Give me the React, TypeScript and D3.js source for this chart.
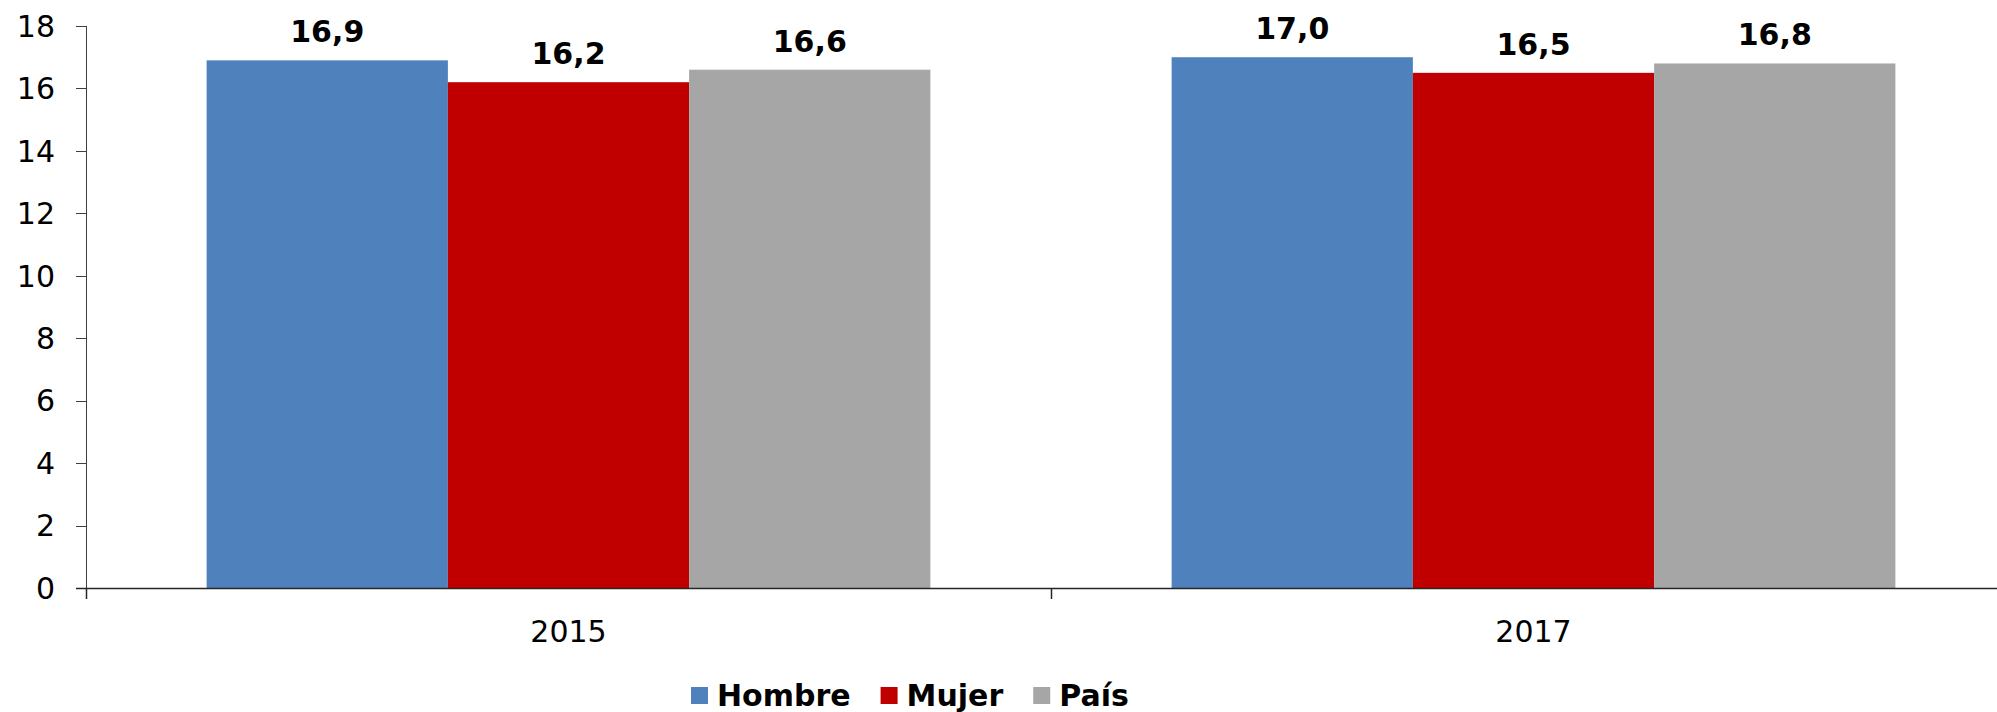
import React, { useLayoutEffect, useRef, useState } from "react";
import * as d3 from "d3";

const categories = ["2015", "2017"];
const seriesNames = ["Hombre", "Mujer", "País"];
const hombre = [16.9, 17.0];
const mujer = [16.2, 16.5];
const pais = [16.6, 16.8];
const yTicks = [0, 2, 4, 6, 8, 10, 12, 14, 16, 18];
const colors = ["#4F81BD", "#C00000", "#A6A6A6"];

const W = 1997;
const H = 712;
const FONT = "'DejaVu Sans', Verdana, sans-serif";

export default function App() {
  const series = [hombre, mujer, pais];
  const x = d3.scaleBand<string>().domain(categories).range([86, 2016]).padding(0);
  const y = d3.scaleLinear().domain([0, 18]).range([588, 26]);
  const bw = x.bandwidth() / 4;
  const fmt = (v: number) => v.toFixed(1).replace(".", ",");

  const textRefs = useRef<(SVGTextElement | null)[]>([]);
  const [widths, setWidths] = useState<number[]>([133, 95, 68]);
  useLayoutEffect(() => {
    const w = textRefs.current.map((t) => (t ? t.getComputedTextLength() : 0));
    setWidths(w);
  }, []);

  const legendX: number[] = [];
  let cx = 691;
  seriesNames.forEach((_, i) => {
    legendX.push(cx);
    cx += 17 + 9 + widths[i] + 30;
  });

  return (
    <svg width={W} height={H} style={{ position: "absolute", left: 0, top: 0, background: "#fff" }} fontFamily={FONT}>
      {/* bars */}
      {categories.map((c, ci) =>
        series.map((s, si) => {
          const bx = (x(c) as number) + bw / 2 + si * bw;
          return (
            <rect key={c + si} x={bx} y={y(s[ci])} width={bw} height={y(0) - y(s[ci])} fill={colors[si]} />
          );
        })
      )}
      {/* data labels */}
      {categories.map((c, ci) =>
        series.map((s, si) => {
          const bx = (x(c) as number) + bw / 2 + si * bw + bw / 2;
          return (
            <text key={"l" + c + si} x={bx} y={y(s[ci]) - 18} textAnchor="middle" fontSize={30} fontWeight="bold" fill="#000">
              {fmt(s[ci])}
            </text>
          );
        })
      )}
      {/* y axis */}
      <line x1={86.5} x2={86.5} y1={y(18)} y2={599} stroke="#404040" strokeWidth={1} />
      {yTicks.map((t) => (
        <g key={t}>
          <line x1={76} x2={86.5} y1={Math.round(y(t)) + 0.5} y2={Math.round(y(t)) + 0.5} stroke="#404040" strokeWidth={1} />
          <text x={55} y={y(t)} dy="0.36em" textAnchor="end" fontSize={30} fill="#000">
            {t}
          </text>
        </g>
      ))}
      {/* x axis */}
      <line x1={76} x2={W} y1={588.5} y2={588.5} stroke="#262626" strokeWidth={1.5} />
      {categories.map((c) => (
        <line key={"t" + c} x1={(x(c) as number) + 0.5} x2={(x(c) as number) + 0.5} y1={588} y2={599} stroke="#262626" strokeWidth={1.5} />
      ))}
      <line x1={(x("2017") as number) + x.bandwidth() + 0.5} x2={(x("2017") as number) + x.bandwidth() + 0.5} y1={588} y2={599} stroke="#262626" />
      {categories.map((c) => (
        <text key={"c" + c} x={(x(c) as number) + x.bandwidth() / 2} y={642} textAnchor="middle" fontSize={30} fill="#000">
          {c}
        </text>
      ))}
      {/* legend */}
      {seriesNames.map((n, i) => (
        <g key={n}>
          <rect x={legendX[i]} y={687} width={17} height={17} fill={colors[i]} />
          <text
            ref={(el) => {
              textRefs.current[i] = el;
            }}
            x={legendX[i] + 26}
            y={706}
            fontSize={30}
            fontWeight="bold"
            fill="#000"
          >
            {n}
          </text>
        </g>
      ))}
    </svg>
  );
}
